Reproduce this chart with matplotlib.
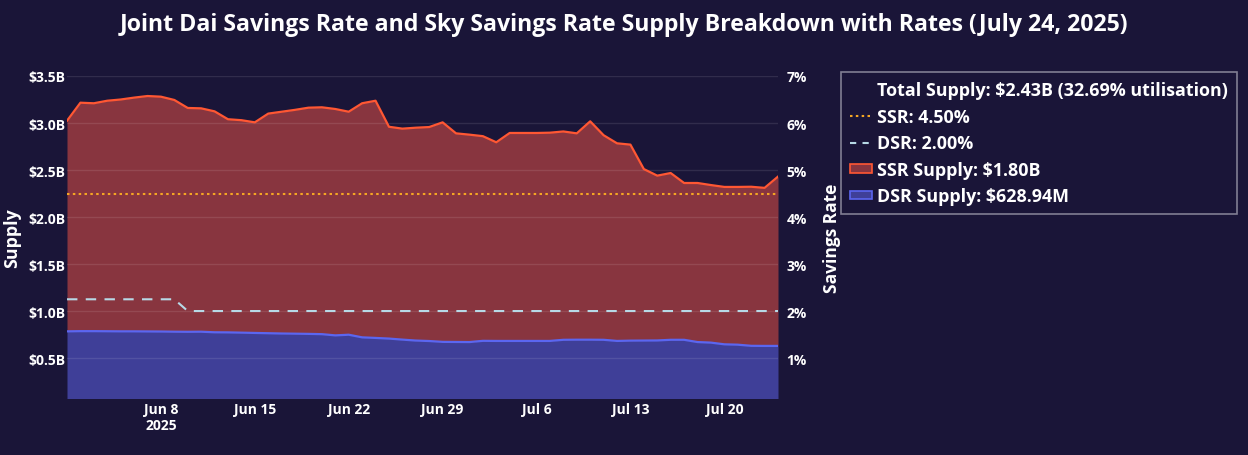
import numpy as np
import pandas as pd
import matplotlib
matplotlib.use("Agg")
import matplotlib.pyplot as plt
import matplotlib.dates as mdates
from matplotlib.lines import Line2D
from matplotlib.patches import Patch

plt.rcParams['font.family'] = ['Open Sans', 'DejaVu Sans']
plt.rcParams['font.weight'] = 'bold'

#%%==============================================================================
# Data, daily Jun 1 - Jul 24 2025

dates = pd.date_range("2025-06-01", "2025-07-24", freq="D")

# total supply (DSR + SSR), $B
total_supply = [3.024, 3.216, 3.210, 3.237, 3.250, 3.270, 3.287, 3.280, 3.245, 3.160,
                3.156, 3.124, 3.040, 3.030, 3.007, 3.100, 3.120, 3.140, 3.163, 3.167,
                3.149, 3.120, 3.210, 3.237, 2.960, 2.940, 2.950, 2.957, 3.007, 2.890,
                2.876, 2.860, 2.795, 2.894, 2.894, 2.894, 2.897, 2.910, 2.890, 3.018,
                2.870, 2.784, 2.770, 2.510, 2.440, 2.468, 2.362, 2.362, 2.340, 2.320,
                2.320, 2.322, 2.310, 2.430]

# DSR supply, $B
dsr_supply = [0.784, 0.786, 0.786, 0.785, 0.784, 0.784, 0.783, 0.782, 0.780, 0.779,
              0.780, 0.774, 0.773, 0.770, 0.767, 0.764, 0.761, 0.759, 0.757, 0.754,
              0.741, 0.748, 0.720, 0.714, 0.707, 0.696, 0.686, 0.681, 0.672, 0.671,
              0.670, 0.683, 0.682, 0.682, 0.682, 0.682, 0.682, 0.694, 0.695, 0.695,
              0.694, 0.682, 0.685, 0.686, 0.687, 0.694, 0.694, 0.670, 0.664, 0.646,
              0.642, 0.630, 0.629, 0.629]

# rates, %
ssr_rate = [4.50] * 54
dsr_rate = [2.25] * 9 + [2.00] * 45

supply_ticks = [0.5, 1.0, 1.5, 2.0, 2.5, 3.0, 3.5]
supply_ticklabels = ["$0.5B", "$1.0B", "$1.5B", "$2.0B", "$2.5B", "$3.0B", "$3.5B"]
rate_ticks = [1, 2, 3, 4, 5, 6, 7]
rate_ticklabels = ["1%", "2%", "3%", "4%", "5%", "6%", "7%"]
date_ticks = ["2025-06-08", "2025-06-15", "2025-06-22", "2025-06-29",
              "2025-07-06", "2025-07-13", "2025-07-20"]
date_ticklabels = ["Jun 8\n2025", "Jun 15", "Jun 22", "Jun 29", "Jul 6", "Jul 13", "Jul 20"]

title = "Joint Dai Savings Rate and Sky Savings Rate Supply Breakdown with Rates (July 24, 2025)"
legend_labels = ["Total Supply: $2.43B (32.69% utilisation)", "SSR: 4.50%", "DSR: 2.00%",
                 "SSR Supply: $1.80B", "DSR Supply: $628.94M"]

#%%==============================================================================
# Style

bg = "#1a1538"
red_fill = "#88353f"
red_line = "#ff5733"
blue_fill = "#3f3f98"
blue_line = "#5b66f0"
ssr_col = "#f5a623"
dsr_col = "#b7d9e6"
grid_col = (1, 1, 1, 0.10)

W, H = 1248, 456
fig = plt.figure(figsize=(W / 100, H / 100), dpi=100, facecolor=bg)
ax = fig.add_axes([67 / W, 1 - 399 / H, (778 - 67) / W, (399 - 77) / H])
ax.set_facecolor(bg)
ax2 = ax.twinx()

#%%==============================================================================
# Supply areas

tot = np.array(total_supply)
dsr = np.array(dsr_supply)
ax.fill_between(dates, 0, dsr, color=blue_fill, lw=0, zorder=1)
ax.fill_between(dates, dsr, tot, color=red_fill, lw=0, zorder=1)
ax.plot(dates, dsr, color=blue_line, lw=1.6, zorder=3)
ax.plot(dates, tot, color=red_line, lw=1.6, zorder=3)

for t in supply_ticks:
    ax.axhline(t, color=grid_col, lw=1, zorder=2)

ax.set_ylim(0.075, 3.5)
ax.set_xlim(dates[0], dates[-1])
ax.set_yticks(supply_ticks)
ax.set_yticklabels(supply_ticklabels)
ax.set_xticks(pd.to_datetime(date_ticks))
ax.set_xticklabels(date_ticklabels)
ax.set_ylabel("Supply", color="white", fontsize=12.8, fontweight="bold", labelpad=5)

#%%==============================================================================
# Rates

ax2.plot(dates, ssr_rate, color=ssr_col, lw=1.5, ls=(0, (1.2, 1.6)), zorder=4)
ax2.plot(dates, dsr_rate, color=dsr_col, lw=1.5, ls=(0, (5, 4)), zorder=4)
ax2.set_ylim(0.15, 7.0)
ax2.set_yticks(rate_ticks)
ax2.set_yticklabels(rate_ticklabels)
ax2.set_ylabel("Savings Rate", color="white", fontsize=12.5, fontweight="bold", labelpad=12)

for a in (ax, ax2):
    for s in a.spines.values():
        s.set_visible(False)
    a.tick_params(colors="white", labelsize=10, length=0)
ax.tick_params(axis="y", pad=1)
ax.tick_params(axis="x", pad=3)
ax2.tick_params(axis="y", pad=6)
for lab in ax.get_xticklabels() + ax.get_yticklabels() + ax2.get_yticklabels():
    lab.set_fontweight("bold")
ax.set_zorder(ax2.get_zorder() - 1)
ax2.patch.set_visible(False)
ax.patch.set_visible(True)

#%%==============================================================================
# Legend & title

handles = [Line2D([], [], color="none"),
           Line2D([], [], color=ssr_col, lw=1.5, ls=(0, (1.2, 1.6))),
           Line2D([], [], color=dsr_col, lw=1.5, ls=(0, (3, 3))),
           Patch(facecolor=red_fill, edgecolor=red_line, lw=1.2),
           Patch(facecolor=blue_fill, edgecolor=blue_line, lw=1.2)]
leg = fig.legend(handles, legend_labels, loc="upper left",
                 bbox_to_anchor=(841 / W, 1 - 73 / H), frameon=True,
                 fontsize=12.9, labelcolor="white", handlelength=1.25, handleheight=0.35,
                 handletextpad=0.27, labelspacing=0.48, borderpad=0.5, borderaxespad=0)
leg.get_frame().set_facecolor(bg)
leg.get_frame().set_edgecolor("#9a98aa")
leg.get_frame().set_linewidth(1.2)
leg.get_frame().set_boxstyle("square", pad=0)
for t in leg.get_texts():
    t.set_fontweight("bold")

fig.text(0.5, 1 - 25 / H, title, color="white", fontsize=16.7, fontweight="bold",
         ha="center", va="center")

fig.savefig("out.png", dpi=100, facecolor=bg)
